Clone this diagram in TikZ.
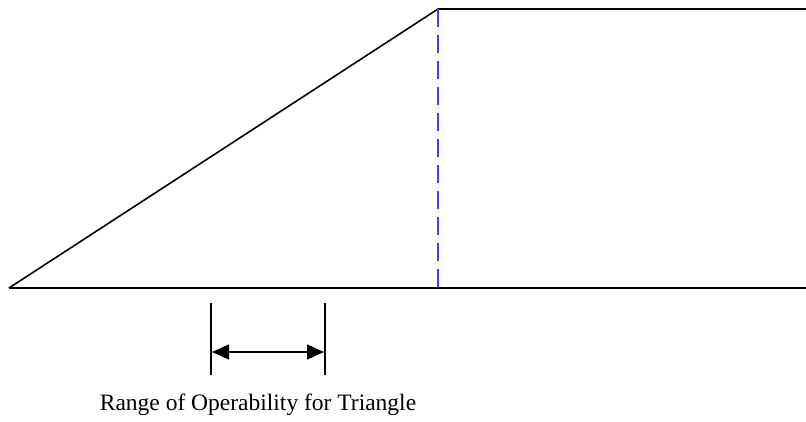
\documentclass[tikz,border=0pt]{standalone}
\usepackage{fontspec}
\setmainfont{Liberation Serif}
\usetikzlibrary{arrows.meta}
\begin{document}
\begin{tikzpicture}[x=1pt,y=-1pt,
  edge/.style={line width=1.6pt,black},
  guide/.style={line width=1.6pt,blue!75!white,dash pattern=on 18pt off 8pt},
  marker/.style={line width=1.8pt,black},
  span/.style={line width=1.6pt,black,{Triangle[length=17pt,width=15pt]}-{Triangle[length=17pt,width=15pt]}},
  lbl/.style={font=\fontsize{23.5}{27}\selectfont,inner sep=0pt}]
\fill[white] (0,0) rectangle (806,421);
\useasboundingbox (0,0) rectangle (806,421);
\coordinate (o) at (9,288);
\coordinate (apex) at (438,9);
\coordinate (tr) at (806,9);
\coordinate (br) at (806,288);
\coordinate (foot) at (438,288);
\coordinate (m1t) at (211,303);
\coordinate (m1b) at (211,375);
\coordinate (m2t) at (325,303);
\coordinate (m2b) at (325,375);
\coordinate (a1) at (212,352);
\coordinate (a2) at (324,352);
\draw[edge] (o) -- (apex) -- (tr);
\draw[edge] (o) -- (br);
\draw[guide] (apex) -- (foot);
\draw[marker] (m1t) -- (m1b);
\draw[marker] (m2t) -- (m2b);
\draw[span] (a1) -- (a2);
\node[lbl] (label) at (258,405) {Range of Operability for Triangle};
\end{tikzpicture}
\end{document}
